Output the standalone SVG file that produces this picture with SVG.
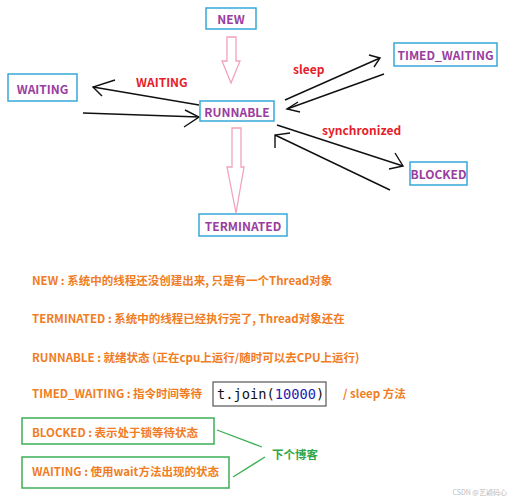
<svg xmlns="http://www.w3.org/2000/svg" width="514" height="500" viewBox="0 0 514 500">
<style>
.box{fill:#fff;stroke:#36a9d9;stroke-width:1.5}
.nt{font-family:"Noto Sans CJK SC","Open Sans",sans-serif;font-weight:bold;font-size:12px;fill:#9a3ea0;text-anchor:middle;dominant-baseline:central}
.lbl{font-family:"Noto Sans CJK SC","Open Sans",sans-serif;font-weight:bold;font-size:12px;fill:#e61e2a;dominant-baseline:central}
.ln{stroke:#111;stroke-width:1.4;fill:none}
.pink{fill:#fff;stroke:#f2a3bb;stroke-width:1.3}
.or{font-family:"Noto Sans CJK SC","Open Sans",sans-serif;font-weight:bold;font-size:11.5px;fill:#f07d24;dominant-baseline:central}
.gbox{fill:#fff;stroke:#3caf55;stroke-width:1.5}
.gl{stroke:#3caf55;stroke-width:1.3;fill:none}
</style>
<rect width="514" height="500" fill="#fff"/>
<g id="connectors">
<polygon class="pink" points="227,37 236,37 236,61 240,61 231,83 222,61 227,61"/>
<polygon class="pink" points="232,128 241,128 241,167 244,167 236,213 227,167 232,167"/>
<line class="ln" x1="199" y1="105" x2="93" y2="87"/>
<polyline class="ln" points="115,80 93,87 102,96"/>
<line class="ln" x1="83" y1="113" x2="199" y2="117"/>
<polyline class="ln" points="185,110 199,117 184,127"/>
<line class="ln" x1="285" y1="100" x2="380" y2="58"/>
<polyline class="ln" points="369,55 380,58 374,67"/>
<line class="ln" x1="384" y1="74" x2="287" y2="109"/>
<polyline class="ln" points="298,102 287,109 300,112"/>
<line class="ln" x1="277" y1="125" x2="403" y2="166"/>
<polyline class="ln" points="395,153 403,166 389,169"/>
<line class="ln" x1="390" y1="190" x2="275" y2="135"/>
<polyline class="ln" points="290,133 275,135 275,148"/>
<text class="lbl" x="136" y="81">WAITING</text>
<text class="lbl" x="293" y="68">sleep</text>
<text class="lbl" x="322" y="129">synchronized</text>
</g>
<g id="new"><rect class="box" x="206" y="8" width="50" height="21"/><text class="nt" x="231" y="18.5">NEW</text></g>
<g id="runnable"><rect class="box" x="200" y="101" width="74" height="20"/><text class="nt" x="237" y="111">RUNNABLE</text></g>
<g id="terminated"><rect class="box" x="199" y="214" width="88" height="22"/><text class="nt" x="243" y="225">TERMINATED</text></g>
<g id="waiting"><rect class="box" x="8" y="74" width="69" height="27"/><text class="nt" x="42.5" y="88">WAITING</text></g>
<g id="timed_waiting"><rect class="box" x="394" y="43" width="103" height="23"/><text class="nt" x="445.5" y="54.5">TIMED_WAITING</text></g>
<g id="blocked"><rect class="box" x="410" y="162" width="57" height="23"/><text class="nt" x="438.5" y="173.5">BLOCKED</text></g>
<g id="notes">
<text class="or" x="32" y="280">NEW : 系统中的线程还没创建出来, 只是有一个Thread对象</text>
<text class="or" x="32" y="318">TERMINATED : 系统中的线程已经执行完了, Thread对象还在</text>
<text class="or" x="32" y="357">RUNNABLE : 就绪状态 (正在cpu上运行/随时可以去CPU上运行)</text>
<text class="or" x="32" y="393">TIMED_WAITING : 指令时间等待</text>
<rect x="213" y="382" width="113" height="24" fill="#fff" stroke="#555" stroke-width="1.2"/>
<text x="217" y="394" font-family="'DejaVu Sans Mono','Liberation Mono',monospace" font-size="13.7" fill="#111" dominant-baseline="central">t.join(<tspan fill="#1c22b0">10000</tspan>)</text>
<text class="or" x="343" y="393">/ sleep 方法</text>
</g>
<g id="blocked_note"><rect class="gbox" x="22" y="418" width="192" height="26"/><text class="or" x="32" y="432">BLOCKED : 表示处于锁等待状态</text></g>
<g id="waiting_note"><rect class="gbox" x="22" y="457" width="207" height="31"/><text class="or" x="32" y="471">WAITING : 使用wait方法出现的状态</text></g>
<g id="green_links">
<line class="gl" x1="217" y1="430" x2="262" y2="447"/>
<line class="gl" x1="233" y1="477" x2="265" y2="457"/>
<text x="272" y="454" font-family="'Noto Sans CJK SC',sans-serif" font-weight="bold" font-size="11.5px" fill="#2fa548" dominant-baseline="central">下个博客</text>
</g>
<text x="507" y="492" text-anchor="end" font-family="'Noto Sans CJK SC',sans-serif" font-size="7px" fill="#bbb" dominant-baseline="central">CSDN @艺颖码心</text>
</svg>
